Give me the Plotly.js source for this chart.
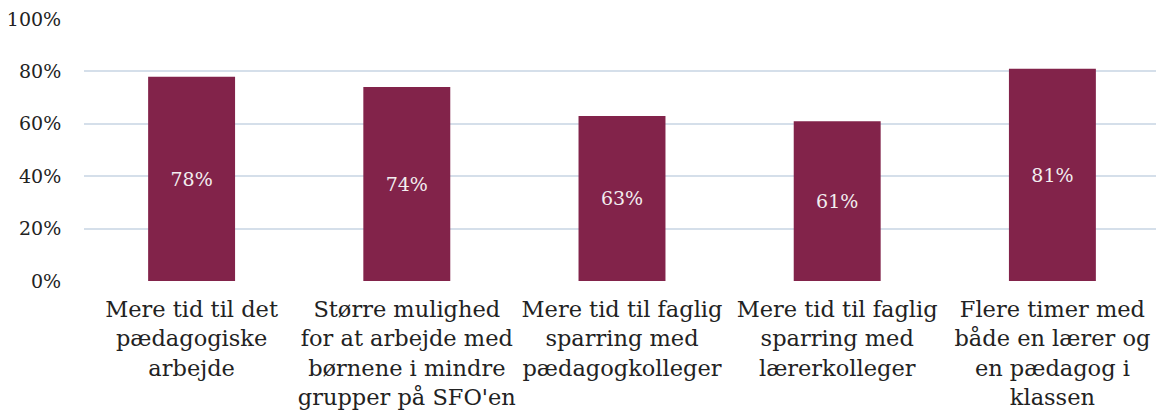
<!DOCTYPE html>
<html>
<head>
<meta charset="utf-8">
<script src="https://cdn.plot.ly/plotly-3.0.1.min.js"></script>
<style>html,body{margin:0;padding:0;background:#fff;overflow:hidden}</style>
</head>
<body>
<div id="chart" style="width:1160px;height:416px"></div>
<script>
const categories = [
  "Mere tid til det<br>pædagogiske<br>arbejde",
  "Større mulighed<br>for at arbejde med<br>børnene i mindre<br>grupper på SFO'en",
  "Mere tid til faglig<br>sparring med<br>pædagogkolleger",
  "Mere tid til faglig<br>sparring med<br>lærerkolleger",
  "Flere timer med<br>både en lærer og<br>en pædagog i<br>klassen"
];
const values = [78, 74, 63, 61, 81];
const labels = ["78%", "74%", "63%", "61%", "81%"];
const yTicks = [0, 20, 40, 60, 80, 100];

const font = "'DejaVu Serif', 'Liberation Serif', serif";

Plotly.newPlot("chart", [{
  type: "bar",
  x: categories,
  y: values,
  text: labels,
  textposition: "inside",
  insidetextanchor: "middle",
  textangle: 0,
  textfont: {family: font, size: 19, color: "#f3eef0"},
  marker: {color: "#82234a"},
  hoverinfo: "none",
  cliponaxis: false
}], {
  width: 1160,
  height: 416,
  margin: {l: 84, r: 0, t: 19, b: 135},
  paper_bgcolor: "#fff",
  plot_bgcolor: "#fff",
  bargap: 0.596,
  showlegend: false,
  font: {family: font, color: "#222"},
  xaxis: {
    type: "category",
    tickfont: {family: font, size: 22.5, color: "#222"},
    showgrid: false,
    showline: false,
    zeroline: false,
    ticks: "outside",
    ticklen: 8,
    tickcolor: "rgba(0,0,0,0)"
  },
  yaxis: {
    range: [0, 100],
    tickvals: yTicks,
    ticktext: yTicks.map(v => v + "%"),
    tickfont: {family: font, size: 19, color: "#222"},
    showgrid: true,
    gridcolor: "#d5dfea",
    gridwidth: 2,
    zeroline: false,
    showline: false,
    ticks: "outside",
    ticklen: 18,
    tickcolor: "rgba(0,0,0,0)"
  }
}, {displayModeBar: false, staticPlot: true});
</script>
</body>
</html>
